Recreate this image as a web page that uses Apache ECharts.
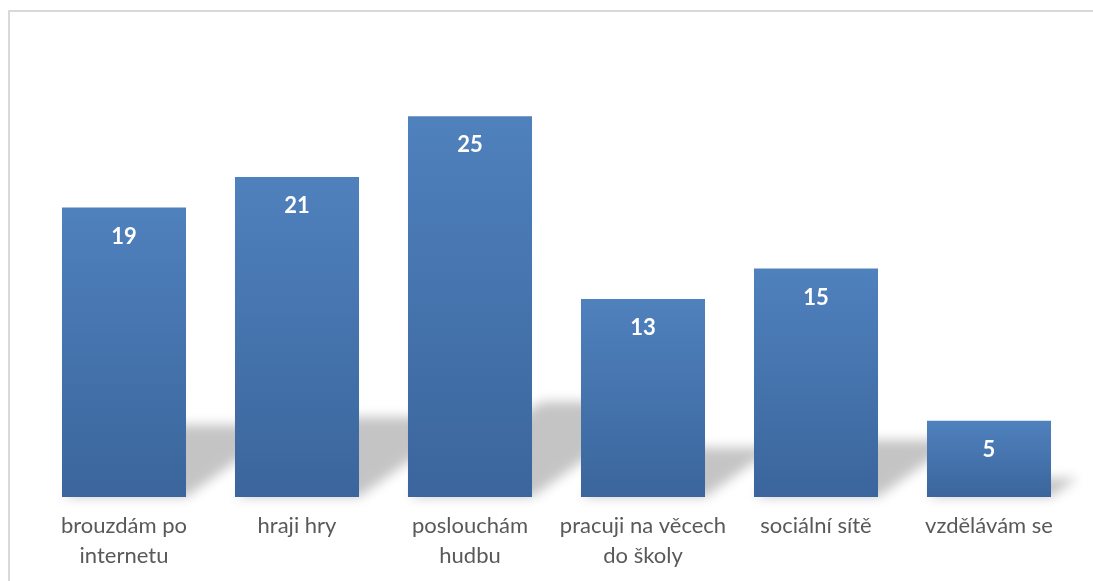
<!DOCTYPE html>
<html>
<head>
<meta charset="utf-8">
<script src="https://cdn.jsdelivr.net/npm/echarts@6/dist/echarts.min.js"></script>
<style>
html,body{margin:0;padding:0;background:#fff;}
#chart{width:1093px;height:581px;}
</style>
</head>
<body>
<div id="chart"></div>
<script>
const categories = ['brouzdám po\ninternetu', 'hraji hry', 'poslouchám\nhudbu', 'pracuji na věcech\ndo školy', 'sociální sítě', 'vzdělávám se'];
const values = [19, 21, 25, 13, 15, 5];

const chart = echarts.init(document.getElementById('chart'));
const OFF = 4000;
chart.setOption({
  backgroundColor: '#ffffff',
  animation: false,
  graphic: [{
    type: 'rect', z: 0,
    shape: { x: 9, y: 11, width: 3000, height: 3000 },
    style: { fill: 'none', stroke: '#d9d9d9', lineWidth: 2 }
  }],
  grid: { left: 37.5, right: 17.5, top: 40, bottom: 84 },
  xAxis: {
    type: 'category',
    data: categories,
    axisLine: { show: false },
    axisTick: { show: false },
    axisLabel: { color: '#595959', fontFamily: 'Lato', fontSize: 22, lineHeight: 30, margin: 14, interval: 0 }
  },
  yAxis: {
    type: 'value', min: 0, max: 30, interval: 5,
    show: false,
    splitLine: { show: false }
  },
  series: [{
    type: 'custom',
    z: 1,
    clip: false,
    data: values,
    renderItem: function (params, api) {
      const idx = params.dataIndex;
      const v = api.value(0);
      const top = api.coord([idx, v]);
      const base = api.coord([idx, 0]);
      const band = api.size([1, 0])[0];
      const w = band * 0.717;
      const x0 = base[0] - w / 2, x1 = base[0] + w / 2;
      const h = base[1] - top[1];
      const dy = h * 0.25;
      const dx = dy * 1.4;
      const y0 = base[1];
      return {
        type: 'polygon',
        shape: { points: [
          [x0 - OFF, y0], [x1 - OFF, y0], [x1 + dx - OFF, y0 - dy], [x0 + dx - OFF, y0 - dy]
        ] },
        style: { fill: '#000', shadowColor: 'rgba(0,0,0,0.23)', shadowBlur: 12, shadowOffsetX: OFF, shadowOffsetY: 0 }
      };
    },
    encode: { x: -1, y: 0 }
  }, {
    type: 'bar',
    z: 5,
    data: values,
    barWidth: '71.7%',
    itemStyle: {
      color: new echarts.graphic.LinearGradient(0, 0, 0, 1, [
        { offset: 0, color: '#4f81bd' },
        { offset: 1, color: '#3b659c' }
      ])
    },
    label: {
      show: true,
      position: 'insideTop',
      distance: 18,
      color: '#ffffff',
      fontFamily: 'Lato',
      fontWeight: 'bold',
      fontSize: 22
    }
  }]
});
</script>
</body>
</html>
